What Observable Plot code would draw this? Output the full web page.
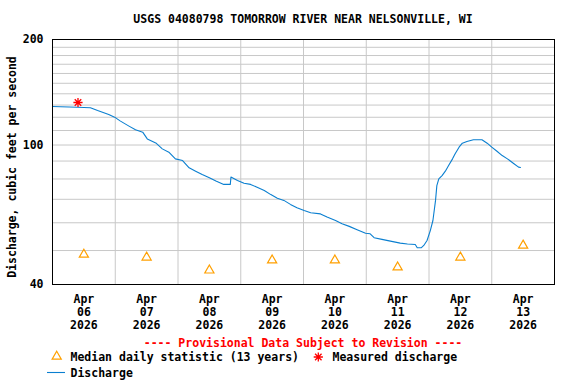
<!DOCTYPE html>
<html>
<head>
<meta charset="utf-8">
<script src="https://cdn.jsdelivr.net/npm/d3@7"></script>
<script src="https://cdn.jsdelivr.net/npm/@observablehq/plot@0.6"></script>
<style>
  html, body { margin: 0; padding: 0; background: white; }
  #wrap { position: relative; width: 576px; height: 384px; overflow: hidden;
    font-family: "DejaVu Sans Mono", monospace; font-weight: bold; font-size: 11.5px; color: black; }
  #wrap svg.plot { position: absolute; left: 0; top: 0; }
  .txt { position: absolute; white-space: pre; line-height: 12px; }
</style>
</head>
<body>
<div id="wrap"></div>
<script>
// ---- Data ----
const dischargeTimes = [
  "2026-04-06T00:00Z","2026-04-06T09:30Z","2026-04-06T14:30Z","2026-04-06T17:15Z","2026-04-06T21:30Z","2026-04-06T23:45Z",
  "2026-04-07T02:00Z","2026-04-07T05:15Z","2026-04-07T07:45Z","2026-04-07T10:30Z","2026-04-07T12:15Z","2026-04-07T15:30Z",
  "2026-04-07T18:00Z","2026-04-07T20:30Z","2026-04-07T23:00Z",
  "2026-04-08T01:45Z","2026-04-08T04:15Z","2026-04-08T06:45Z","2026-04-08T09:15Z","2026-04-08T12:00Z","2026-04-08T14:30Z",
  "2026-04-08T17:30Z","2026-04-08T20:00Z","2026-04-08T20:15Z","2026-04-08T22:45Z",
  "2026-04-09T01:15Z","2026-04-09T03:45Z","2026-04-09T06:15Z","2026-04-09T09:00Z","2026-04-09T11:30Z","2026-04-09T14:00Z",
  "2026-04-09T16:30Z","2026-04-09T19:00Z","2026-04-09T21:30Z",
  "2026-04-10T00:15Z","2026-04-10T02:45Z","2026-04-10T06:30Z","2026-04-10T09:00Z","2026-04-10T12:15Z","2026-04-10T14:45Z",
  "2026-04-10T17:30Z","2026-04-10T20:30Z","2026-04-10T23:45Z",
  "2026-04-11T01:30Z","2026-04-11T03:00Z","2026-04-11T06:00Z","2026-04-11T09:15Z","2026-04-11T13:00Z","2026-04-11T15:45Z",
  "2026-04-11T18:45Z","2026-04-11T19:30Z","2026-04-11T21:00Z","2026-04-11T22:00Z","2026-04-11T23:15Z",
  "2026-04-12T00:30Z","2026-04-12T01:30Z","2026-04-12T02:30Z","2026-04-12T03:00Z","2026-04-12T03:45Z","2026-04-12T05:00Z",
  "2026-04-12T06:15Z","2026-04-12T07:30Z","2026-04-12T09:00Z","2026-04-12T10:00Z","2026-04-12T11:30Z","2026-04-12T12:45Z",
  "2026-04-12T14:30Z","2026-04-12T17:00Z","2026-04-12T20:15Z","2026-04-12T22:15Z",
  "2026-04-13T00:00Z","2026-04-13T02:00Z","2026-04-13T04:00Z","2026-04-13T06:00Z","2026-04-13T08:30Z","2026-04-13T10:15Z","2026-04-13T11:00Z"
];
const dischargeValues = [
  128.8,128.2,127.7,125.4,122.2,120.1,
  117.0,113.2,110.5,108.8,104.1,101.4,
  97.5,95.4,91.3,
  90.3,86.1,84.2,82.4,80.6,78.9,
  77.2,77.2,81.0,79.2,
  77.8,77.2,75.8,74.2,72.2,70.5,
  69.5,67.7,66.2,
  65.0,64.1,63.6,62.3,60.9,59.6,
  58.6,57.3,56.0,
  55.8,54.4,53.8,53.2,52.5,52.2,
  52.0,50.9,50.9,51.7,53.4,
  57.0,60.9,69.5,76.6,80.1,81.8,
  84.2,87.4,91.3,94.4,98.6,101.2,
  102.3,103.5,103.5,101.2,
  98.6,96.0,93.3,91.3,88.4,86.5,86.3
];
const medianDates = ["2026-04-06T12:00Z","2026-04-07T12:00Z","2026-04-08T12:00Z","2026-04-09T12:00Z",
  "2026-04-10T12:00Z","2026-04-11T12:00Z","2026-04-12T12:00Z","2026-04-13T12:00Z"];
const medianValues = [48.7, 47.8, 43.9, 46.9, 46.9, 44.8, 47.8, 51.7];
const measuredTimes = ["2026-04-06T09:45Z"];
const measuredValues = [132.2];
const xDomain = ["2026-04-06T00:00Z", "2026-04-14T00:00Z"];
const dayLines = ["2026-04-07T00:00Z","2026-04-08T00:00Z","2026-04-09T00:00Z","2026-04-10T00:00Z",
  "2026-04-11T00:00Z","2026-04-12T00:00Z","2026-04-13T00:00Z"];
const yDomain = [40, 200];
const yTicks = [40, 100, 200];
const yGrid = [50, 60, 70, 80, 90, 100, 110, 120, 130, 140, 150, 160, 170, 180, 190];
const titleText = "USGS 04080798 TOMORROW RIVER NEAR NELSONVILLE, WI";
const yLabelText = "Discharge, cubic feet per second";
const provisionalText = "---- Provisional Data Subject to Revision ----";
const legendMedian = "Median daily statistic (13 years)";
const legendMeasured = "Measured discharge";
const legendDischarge = "Discharge";

// ---- Build ----
const P = s => new Date(s);
const discharge = dischargeTimes.map((t, i) => ({date: P(t), value: dischargeValues[i]}));
const medians = medianDates.map((t, i) => ({date: P(t), value: medianValues[i]}));
const measured = measuredTimes.map((t, i) => ({date: P(t), value: measuredValues[i]}));
const monthNames = ["Jan","Feb","Mar","Apr","May","Jun","Jul","Aug","Sep","Oct","Nov","Dec"];

const asterisk8 = {
  draw(ctx, size) {
    const r = Math.sqrt(size / Math.PI);
    const d = r * Math.SQRT1_2;
    ctx.moveTo(-r, 0); ctx.lineTo(r, 0);
    ctx.moveTo(0, -r); ctx.lineTo(0, r);
    ctx.moveTo(-d, -d); ctx.lineTo(d, d);
    ctx.moveTo(-d, d); ctx.lineTo(d, -d);
  }
};

const BLUE = "#0a7fd0";
const ORANGE = "#ffa000";
const RED = "#ff0000";

const chart = Plot.plot({
  width: 576,
  height: 384,
  marginLeft: 52,
  marginRight: 22,
  marginTop: 39,
  marginBottom: 100,
  style: {fontFamily: "'DejaVu Sans Mono', monospace", fontWeight: "bold", fontSize: "11.5px", background: "white", color: "black", overflow: "visible"},
  x: {type: "utc", domain: xDomain.map(P)},
  y: {type: "log", domain: yDomain},
  marks: [
    Plot.ruleY(yGrid, {stroke: "#c8c8c8", strokeWidth: 1}),
    Plot.ruleX(dayLines.map(P), {stroke: "#c8c8c8", strokeWidth: 1}),
    Plot.axisY({ticks: yTicks, tickSize: 0, tickPadding: 9, tickFormat: d => String(d), label: null, fontWeight: "bold"}),
    Plot.axisX({ticks: medianDates.map(P), tickSize: 0, tickPadding: 10, label: null, lineHeight: 1.1,
      tickFormat: d => `${monthNames[d.getUTCMonth()]}\n${String(d.getUTCDate()).padStart(2, "0")}\n${d.getUTCFullYear()}`}),
    Plot.line(discharge, {x: "date", y: "value", stroke: BLUE, strokeWidth: 1.1}),
    Plot.dot(medians, {x: "date", y: "value", symbol: "triangle", r: 3.4, stroke: ORANGE, strokeWidth: 1.2, fill: "none"}),
    Plot.dot(measured, {x: "date", y: "value", symbol: asterisk8, r: 4.6, stroke: RED, strokeWidth: 1.3, fill: "none"}),
    Plot.frame({stroke: "black", strokeWidth: 1})
  ]
});
chart.classList.add("plot");
const wrap = document.getElementById("wrap");
wrap.appendChild(chart);

function addText(text, css) {
  const d = document.createElement("div");
  d.className = "txt";
  d.textContent = text;
  Object.assign(d.style, css);
  wrap.appendChild(d);
  return d;
}
addText(titleText, {left: "52px", width: "502px", top: "13px", textAlign: "center"});
addText(yLabelText, {left: "-108px", width: "240px", top: "161px", textAlign: "center", transform: "rotate(-90deg)", transformOrigin: "120px 6px"});
addText(provisionalText, {left: "52px", width: "502px", top: "337px", textAlign: "center", color: RED});
addText(legendMedian, {left: "70.5px", top: "351px"});
addText(legendMeasured, {left: "332.5px", top: "351px"});
addText(legendDischarge, {left: "70.5px", top: "367px"});

// legend symbols
const ns = "http://www.w3.org/2000/svg";
const lg = document.createElementNS(ns, "svg");
lg.setAttribute("width", 576); lg.setAttribute("height", 384);
lg.style.position = "absolute"; lg.style.left = "0"; lg.style.top = "0"; lg.style.pointerEvents = "none";
const triPath = d3.symbol(d3.symbolTriangle, Math.PI * 3.4 * 3.4)();
const t = document.createElementNS(ns, "path");
t.setAttribute("d", triPath); t.setAttribute("transform", "translate(56.7,356.5)");
t.setAttribute("fill", "none"); t.setAttribute("stroke", ORANGE); t.setAttribute("stroke-width", 1.2);
lg.appendChild(t);
const a = document.createElementNS(ns, "path");
a.setAttribute("d", d3.symbol(asterisk8, Math.PI * 4.6 * 4.6)());
a.setAttribute("transform", "translate(318.3,357)");
a.setAttribute("fill", "none"); a.setAttribute("stroke", RED); a.setAttribute("stroke-width", 1.3);
lg.appendChild(a);
const l = document.createElementNS(ns, "line");
l.setAttribute("x1", 47); l.setAttribute("x2", 65); l.setAttribute("y1", 372.5); l.setAttribute("y2", 372.5);
l.setAttribute("stroke", BLUE); l.setAttribute("stroke-width", 1.1);
lg.appendChild(l);
wrap.appendChild(lg);
</script>
</body>
</html>
